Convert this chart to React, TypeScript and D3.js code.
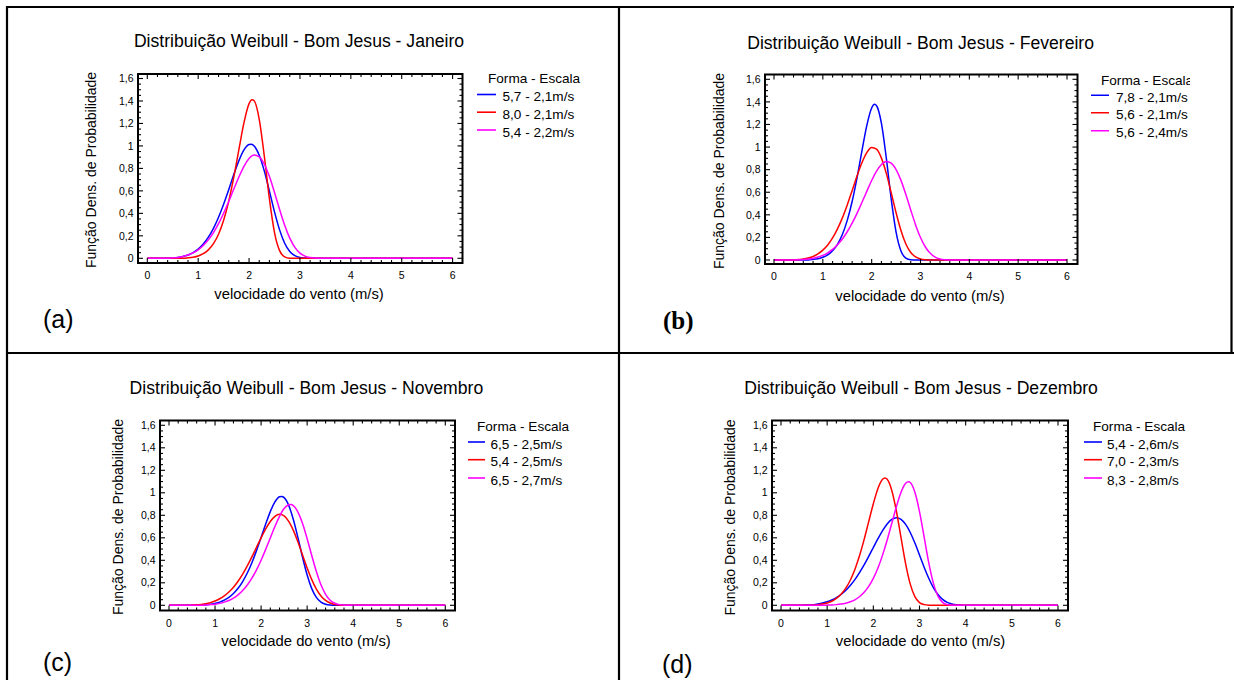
import React from "react";
import * as d3 from "d3";

// ---------- DATA ----------
type Pt = [number, number];

const xTicks = [0, 1, 2, 3, 4, 5, 6];
const yTicks = [0, 0.2, 0.4, 0.6, 0.8, 1, 1.2, 1.4, 1.6];

const panelTitles = [
  "Distribuição Weibull - Bom Jesus - Janeiro",
  "Distribuição Weibull - Bom Jesus - Fevereiro",
  "Distribuição Weibull - Bom Jesus - Novembro",
  "Distribuição Weibull - Bom Jesus - Dezembro",
];
const panelLetters = ["(a)", "(b)", "(c)", "(d)"];
const legendTitle = "Forma - Escala";
const xAxisLabel = "velocidade do vento (m/s)";
const yAxisLabel = "Função Dens. de Probabilidade";

const janLabels = ["5,7 - 2,1m/s", "8,0 - 2,1m/s", "5,4 - 2,2m/s"];
const fevLabels = ["7,8 - 2,1m/s", "5,6 - 2,1m/s", "5,6 - 2,4m/s"];
const novLabels = ["6,5 - 2,5m/s", "5,4 - 2,5m/s", "6,5 - 2,7m/s"];
const dezLabels = ["5,4 - 2,6m/s", "7,0 - 2,3m/s", "8,3 - 2,8m/s"];

const janBlue: Pt[] = [[0,0],[0.4,0],[0.5,0.003],[0.6,0.008],[0.7,0.016],[0.8,0.029],[0.9,0.05],[1.0,0.082],[1.1,0.127],[1.2,0.188],[1.3,0.267],[1.4,0.366],[1.5,0.482],[1.6,0.611],[1.7,0.745],[1.8,0.868],[1.9,0.964],[2.0,1.012],[2.05,1.015],[2.1,0.999],[2.2,0.917],[2.3,0.776],[2.4,0.598],[2.5,0.413],[2.6,0.253],[2.7,0.134],[2.8,0.061],[2.9,0.023],[3.0,0.007],[3.1,0.002],[3.2,0],[6,0]];
const janRed: Pt[] = [[0,0],[0.7,0],[0.8,0.004],[0.9,0.01],[1.0,0.021],[1.1,0.041],[1.2,0.075],[1.3,0.13],[1.4,0.214],[1.5,0.338],[1.6,0.507],[1.7,0.722],[1.8,0.968],[1.9,1.207],[2.0,1.376],[2.06,1.41],[2.1,1.402],[2.2,1.237],[2.3,0.908],[2.4,0.529],[2.5,0.229],[2.6,0.068],[2.7,0.013],[2.8,0.001],[2.9,0],[6,0]];
const janMag: Pt[] = [[0,0],[0.4,0],[0.5,0.004],[0.6,0.008],[0.7,0.016],[0.8,0.029],[0.9,0.048],[1.0,0.075],[1.1,0.114],[1.2,0.164],[1.3,0.229],[1.4,0.308],[1.5,0.401],[1.6,0.505],[1.7,0.616],[1.8,0.724],[1.9,0.819],[2.0,0.888],[2.1,0.919],[2.2,0.903],[2.3,0.837],[2.4,0.727],[2.5,0.586],[2.6,0.435],[2.7,0.294],[2.8,0.179],[2.9,0.097],[3.0,0.046],[3.1,0.019],[3.2,0.007],[3.3,0.002],[3.4,0],[6,0]];

const fevBlue: Pt[] = [[0,0],[0.7,0],[0.8,0.005],[0.9,0.012],[1.0,0.024],[1.1,0.045],[1.2,0.082],[1.3,0.139],[1.4,0.226],[1.5,0.351],[1.6,0.518],[1.7,0.728],[1.8,0.964],[1.9,1.19],[2.0,1.346],[2.06,1.378],[2.1,1.366],[2.2,1.21],[2.3,0.902],[2.4,0.541],[2.5,0.247],[2.6,0.08],[2.7,0.017],[2.8,0.002],[2.9,0],[6,0]];
const fevRed: Pt[] = [[0,0],[0.4,0],[0.5,0.004],[0.6,0.008],[0.7,0.017],[0.8,0.031],[0.9,0.054],[1.0,0.087],[1.1,0.133],[1.2,0.195],[1.3,0.275],[1.4,0.373],[1.5,0.488],[1.6,0.614],[1.7,0.743],[1.8,0.861],[1.9,0.951],[2.0,0.996],[2.1,0.981],[2.2,0.902],[2.3,0.767],[2.4,0.596],[2.5,0.418],[2.6,0.261],[2.7,0.142],[2.8,0.067],[2.9,0.027],[3.0,0.009],[3.1,0.002],[3.2,0],[6,0]];
const fevMag: Pt[] = [[0,0],[0.4,0],[0.5,0.002],[0.6,0.004],[0.7,0.008],[0.8,0.015],[0.9,0.026],[1.0,0.041],[1.1,0.064],[1.2,0.094],[1.3,0.135],[1.4,0.186],[1.5,0.25],[1.6,0.326],[1.7,0.413],[1.8,0.509],[1.9,0.608],[2.0,0.704],[2.1,0.786],[2.2,0.846],[2.3,0.873],[2.4,0.858],[2.5,0.801],[2.6,0.705],[2.7,0.58],[2.8,0.443],[2.9,0.311],[3.0,0.199],[3.1,0.115],[3.2,0.059],[3.3,0.026],[3.4,0.01],[3.5,0.003],[3.6,0],[6,0]];

const novBlue: Pt[] = [[0,0],[0.6,0],[0.7,0.002],[0.8,0.005],[0.9,0.009],[1.0,0.017],[1.1,0.028],[1.2,0.046],[1.3,0.07],[1.4,0.105],[1.5,0.151],[1.6,0.211],[1.7,0.287],[1.8,0.379],[1.9,0.486],[2.0,0.603],[2.1,0.722],[2.2,0.833],[2.3,0.919],[2.4,0.965],[2.45,0.968],[2.5,0.957],[2.6,0.888],[2.7,0.763],[2.8,0.601],[2.9,0.427],[3.0,0.269],[3.1,0.148],[3.2,0.07],[3.3,0.028],[3.4,0.009],[3.5,0.002],[3.6,0],[6,0]];
const novRed: Pt[] = [[0,0],[0.4,0],[0.5,0.002],[0.6,0.004],[0.7,0.008],[0.8,0.014],[0.9,0.024],[1.0,0.038],[1.1,0.058],[1.2,0.084],[1.3,0.118],[1.4,0.161],[1.5,0.214],[1.6,0.277],[1.7,0.35],[1.8,0.43],[1.9,0.515],[2.0,0.6],[2.1,0.679],[2.2,0.745],[2.3,0.791],[2.4,0.809],[2.5,0.795],[2.6,0.746],[2.7,0.666],[2.8,0.563],[2.9,0.447],[3.0,0.332],[3.1,0.228],[3.2,0.144],[3.3,0.083],[3.4,0.043],[3.5,0.02],[3.6,0.008],[3.7,0.003],[3.8,0.001],[3.9,0],[6,0]];
const novMag: Pt[] = [[0,0],[0.7,0],[0.8,0.003],[0.9,0.006],[1.0,0.01],[1.1,0.017],[1.2,0.028],[1.3,0.043],[1.4,0.064],[1.5,0.093],[1.6,0.131],[1.7,0.18],[1.8,0.241],[1.9,0.315],[2.0,0.401],[2.1,0.497],[2.2,0.599],[2.3,0.7],[2.4,0.791],[2.5,0.86],[2.6,0.894],[2.65,0.897],[2.7,0.886],[2.8,0.829],[2.9,0.727],[3.0,0.592],[3.1,0.442],[3.2,0.3],[3.3,0.182],[3.4,0.098],[3.5,0.045],[3.6,0.018],[3.7,0.006],[3.8,0.002],[3.9,0],[6,0]];

const dezBlue: Pt[] = [[0,0],[0.4,0],[0.5,0.002],[0.6,0.003],[0.7,0.006],[0.8,0.012],[0.9,0.02],[1.0,0.031],[1.1,0.047],[1.2,0.068],[1.3,0.096],[1.4,0.132],[1.5,0.176],[1.6,0.228],[1.7,0.29],[1.8,0.359],[1.9,0.435],[2.0,0.514],[2.1,0.592],[2.2,0.664],[2.3,0.723],[2.4,0.763],[2.5,0.778],[2.6,0.764],[2.7,0.719],[2.8,0.647],[2.9,0.553],[3.0,0.447],[3.1,0.339],[3.2,0.241],[3.3,0.158],[3.4,0.096],[3.5,0.053],[3.6,0.026],[3.7,0.012],[3.8,0.005],[3.9,0.002],[4.0,0],[6,0]];
const dezRed: Pt[] = [[0,0],[0.6,0],[0.7,0.002],[0.8,0.005],[0.9,0.011],[1.0,0.021],[1.1,0.036],[1.2,0.061],[1.3,0.098],[1.4,0.15],[1.5,0.223],[1.6,0.319],[1.7,0.44],[1.8,0.584],[1.9,0.744],[2.0,0.903],[2.1,1.039],[2.2,1.12],[2.25,1.132],[2.3,1.12],[2.4,1.021],[2.5,0.836],[2.6,0.601],[2.7,0.369],[2.8,0.188],[2.9,0.077],[3.0,0.024],[3.1,0.006],[3.2,0.001],[3.3,0],[6,0]];
const dezMag: Pt[] = [[0,0],[0.9,0],[1.0,0.002],[1.1,0.003],[1.2,0.006],[1.3,0.011],[1.4,0.019],[1.5,0.031],[1.6,0.049],[1.7,0.076],[1.8,0.115],[1.9,0.168],[2.0,0.239],[2.1,0.331],[2.2,0.446],[2.3,0.58],[2.4,0.729],[2.5,0.877],[2.6,1.005],[2.7,1.085],[2.76,1.099],[2.8,1.091],[2.9,1.005],[3.0,0.833],[3.1,0.608],[3.2,0.379],[3.3,0.197],[3.4,0.082],[3.5,0.026],[3.6,0.006],[3.7,0.001],[3.8,0],[6,0]];

const seriesColors = ["#0000ff", "#ff0000", "#ff00ff"];

// ---------- LAYOUT ----------
type Layout = {
  titleX: number; titleY: number;
  frame: { l: number; r: number; t: number; b: number };
  x0: number; x6: number; y0: number; y16: number;
  xLabelX: number; xLabelY: number; yLabelX: number; yLabelY: number;
  leg: { titleX: number; titleY: number; lx1: number; lx2: number; tx: number; rows: number[]; clip?: number };
  letterX: number; letterY: number; serif: boolean;
};

const layouts: Layout[] = [
  { titleX: 299, titleY: 47, frame: { l: 138, r: 462.5, t: 74, b: 263 }, x0: 147.3, x6: 452.6, y0: 258.3, y16: 78.5,
    xLabelX: 299, xLabelY: 299, yLabelX: 96, yLabelY: 170,
    leg: { titleX: 488, titleY: 83.3, lx1: 477, lx2: 496, tx: 502.5, rows: [101, 118.7, 136.5] },
    letterX: 43, letterY: 328, serif: false },
  { titleX: 920.6, titleY: 49, frame: { l: 765, r: 1077.5, t: 74.5, b: 264 }, x0: 774, x6: 1067, y0: 260, y16: 79.3,
    xLabelX: 920, xLabelY: 301, yLabelX: 724, yLabelY: 171,
    leg: { titleX: 1101, titleY: 84.5, lx1: 1091, lx2: 1109, tx: 1116, rows: [101.7, 119.3, 137.3], clip: 1190 },
    letterX: 663, letterY: 329, serif: true },
  { titleX: 306.4, titleY: 394, frame: { l: 160, r: 455, t: 420.5, b: 610.5 }, x0: 169, x6: 445.3, y0: 605.3, y16: 425.3,
    xLabelX: 306, xLabelY: 646, yLabelX: 123, yLabelY: 517,
    leg: { titleX: 477, titleY: 430.5, lx1: 468, lx2: 485, tx: 490.5, rows: [448.5, 466.2, 484.5] },
    letterX: 43, letterY: 671, serif: false },
  { titleX: 921, titleY: 394, frame: { l: 772, r: 1068, t: 420.5, b: 610.5 }, x0: 781, x6: 1058, y0: 605.3, y16: 425.3,
    xLabelX: 920.5, xLabelY: 646, yLabelX: 735, yLabelY: 517.5,
    leg: { titleX: 1093, titleY: 430.5, lx1: 1084, lx2: 1102, tx: 1107, rows: [448.5, 466.2, 484.5] },
    letterX: 662, letterY: 673, serif: false },
];

const panelSeries: Pt[][][] = [
  [janBlue, janRed, janMag],
  [fevBlue, fevRed, fevMag],
  [novBlue, novRed, novMag],
  [dezBlue, dezRed, dezMag],
];
const panelLegends = [janLabels, fevLabels, novLabels, dezLabels];

const FONT = "'Liberation Sans', Arial, Helvetica, sans-serif";
const SERIF = "'Liberation Serif', 'Times New Roman', serif";
const TXT = "#000";

const loc = d3.formatLocale({ decimal: ",", thousands: ".", grouping: [3], currency: ["", ""] });
const fmt = loc.format(".1~f");

function Panel({ idx }: { idx: number }) {
  const L = layouts[idx];
  const x = d3.scaleLinear().domain([0, 6]).range([L.x0, L.x6]);
  const y = d3.scaleLinear().domain([0, 1.6]).range([L.y0, L.y16]);
  const line = d3.line<Pt>().x((d) => x(d[0])).y((d) => y(d[1])).curve(d3.curveMonotoneX);
  const f = L.frame;
  const xMinor = d3.range(0, 6.001, 0.2);
  const yMinor = d3.range(0, 1.6001, 0.05);
  const majLen = 5, minLen = 3;
  const clipId = `legclip${idx}`;
  return (
    <g>
      <text x={L.titleX} y={L.titleY} textAnchor="middle" fontFamily={FONT} fontSize={17.6} fill={TXT}>
        {panelTitles[idx]}
      </text>
      <g>
        {panelSeries[idx].map((s, i) => (
          <path key={i} d={line(s) || ""} fill="none" stroke={seriesColors[i]} strokeWidth={1.5} strokeLinejoin="round" />
        ))}
      </g>
      <g stroke="#000" strokeWidth={1.1}>
        {xMinor.map((v, i) => {
          const isMaj = Math.abs(v - Math.round(v)) < 1e-6;
          const len = isMaj ? majLen : minLen;
          const px = x(v);
          return (
            <g key={"xt" + i}>
              <line x1={px} x2={px} y1={f.b} y2={f.b - len} />
              <line x1={px} x2={px} y1={f.t} y2={f.t + len} />
            </g>
          );
        })}
        {yMinor.map((v, i) => {
          const isMaj = Math.abs(v * 5 - Math.round(v * 5)) < 1e-6;
          const len = isMaj ? majLen : minLen;
          const py = y(v);
          return (
            <g key={"yt" + i}>
              <line x1={f.l} x2={f.l + len} y1={py} y2={py} />
              <line x1={f.r} x2={f.r - len} y1={py} y2={py} />
            </g>
          );
        })}
      </g>
      <rect x={f.l} y={f.t} width={f.r - f.l} height={f.b - f.t} fill="none" stroke="#000" strokeWidth={2} />
      <g fontFamily={FONT} fontSize={10.5} fill={TXT}>
        {xTicks.map((v) => (
          <text key={"xl" + v} x={x(v)} y={f.b + 16} textAnchor="middle">{fmt(v)}</text>
        ))}
        {yTicks.map((v) => (
          <text key={"yl" + v} x={f.l - 4.5} y={y(v)} dy="0.35em" textAnchor="end">{fmt(v)}</text>
        ))}
      </g>
      <text x={L.xLabelX} y={L.xLabelY} textAnchor="middle" fontFamily={FONT} fontSize={14.8} fill={TXT}>
        {xAxisLabel}
      </text>
      <text transform={`translate(${L.yLabelX},${L.yLabelY}) rotate(-90)`} textAnchor="middle" fontFamily={FONT} fontSize={14} fill={TXT}>
        {yAxisLabel}
      </text>
      {L.leg.clip !== undefined && (
        <clipPath id={clipId}>
          <rect x={L.leg.lx1 - 5} y={L.leg.titleY - 20} width={L.leg.clip - L.leg.lx1 + 5} height={100} />
        </clipPath>
      )}
      <g clipPath={L.leg.clip !== undefined ? `url(#${clipId})` : undefined} fontFamily={FONT} fontSize={13.6} fill={TXT}>
        <text x={L.leg.titleX} y={L.leg.titleY}>{legendTitle}</text>
        {panelLegends[idx].map((lab, i) => (
          <g key={lab + i}>
            <line x1={L.leg.lx1} x2={L.leg.lx2} y1={L.leg.rows[i] - 6.5} y2={L.leg.rows[i] - 6.5} stroke={seriesColors[i]} strokeWidth={1.6} />
            <text x={L.leg.tx} y={L.leg.rows[i]}>{lab}</text>
          </g>
        ))}
      </g>
      <text x={L.letterX} y={L.letterY} fontFamily={L.serif ? SERIF : FONT} fontWeight={L.serif ? "bold" : "normal"} fontSize={25} fill="#000">
        {panelLetters[idx]}
      </text>
    </g>
  );
}

export default function App() {
  return (
    <svg width={1234} height={680} viewBox="0 0 1234 680"
      style={{ position: "absolute", left: 0, top: 0, background: "#fff", display: "block" }}>
      <rect x={0} y={0} width={1234} height={680} fill="#fff" />
      <g stroke="#000" strokeWidth={2.2}>
        <line x1={6} x2={1234} y1={7} y2={7} />
        <line x1={7} x2={7} y1={6} y2={680} />
        <line x1={619} x2={619} y1={6} y2={680} />
        <line x1={6} x2={1234} y1={353} y2={353} />
        <line x1={1231.5} x2={1231.5} y1={7} y2={353} />
      </g>
      {[0, 1, 2, 3].map((i) => <Panel key={i} idx={i} />)}
    </svg>
  );
}
